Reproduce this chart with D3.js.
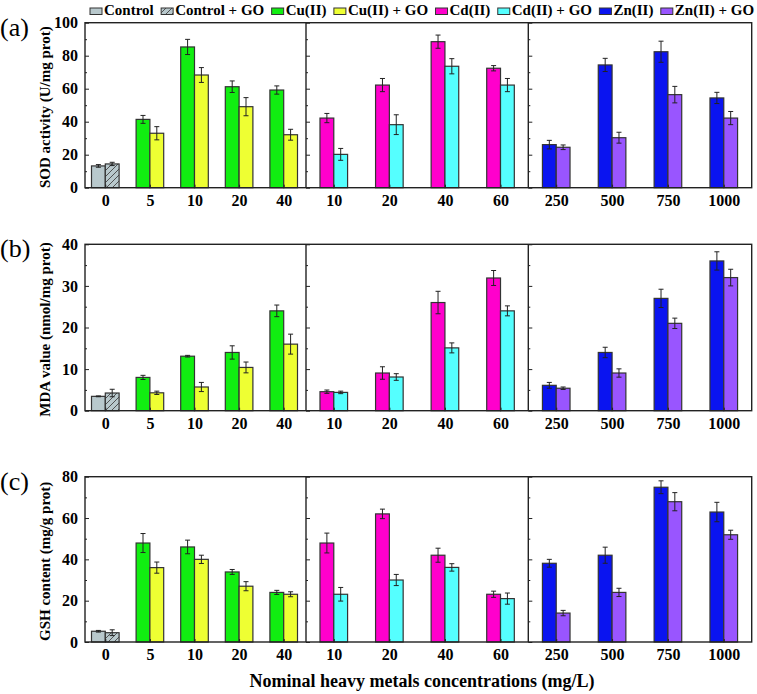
<!DOCTYPE html>
<html><head><meta charset="utf-8">
<script src="https://cdn.jsdelivr.net/npm/d3@7"></script>
<style>body{margin:0;background:#fff}svg{display:block}</style>
</head><body><svg id="chart" width="757" height="694"></svg>
<script>
// ---------- DATA ----------
const controlConc = ["0"];
const cuConc = ["5", "10", "20", "40"];
const cdConc = ["10", "20", "40", "60"];
const znConc = ["250", "500", "750", "1000"];
const legendLabels = ["Control", "Control + GO", "Cu(II)", "Cu(II) + GO", "Cd(II)", "Cd(II) + GO", "Zn(II)", "Zn(II) + GO"];
const panelLabels = ["(a)", "(b)", "(c)"];
const yTitles = ["SOD activity (U/mg prot)", "MDA value (nmol/mg prot)", "GSH content (mg/g prot)"];
const xTitle = "Nominal heavy metals concentrations (mg/L)";

// SOD
const sodControl = [13.2, 14.4], sodControlErr = [0.8, 1.0];
const sodCu = [41.4, 85.3, 61.2, 59.2], sodCuErr = [2.4, 4.6, 3.5, 2.5];
const sodCuGO = [33.0, 68.3, 49.1, 32.1], sodCuGOErr = [4.0, 4.5, 5.5, 3.3];
const sodCd = [42.2, 62.2, 88.5, 72.4], sodCdErr = [2.8, 4.0, 4.0, 1.6];
const sodCdGO = [20.2, 38.2, 73.6, 62.2], sodCdGOErr = [3.6, 6.0, 4.6, 4.0];
const sodZn = [26.1, 74.4, 82.4, 54.4], sodZnErr = [2.6, 4.0, 6.4, 3.4];
const sodZnGO = [24.5, 30.3, 56.4, 42.2], sodZnGOErr = [1.4, 3.3, 5.0, 4.0];
// MDA
const mdaControl = [3.45, 4.25], mdaControlErr = [0.1, 0.9];
const mdaCu = [8.0, 13.1, 14.0, 24.0], mdaCuErr = [0.5, 0.2, 1.6, 1.4];
const mdaCuGO = [4.3, 5.7, 10.4, 16.0], mdaCuGOErr = [0.4, 1.1, 1.3, 2.4];
const mdaCd = [4.57, 9.06, 26.0, 31.9], mdaCdErr = [0.4, 1.5, 2.7, 1.8];
const mdaCdGO = [4.4, 8.1, 15.1, 24.0], mdaCdGOErr = [0.3, 0.8, 1.2, 1.2];
const mdaZn = [6.1, 14.0, 27.0, 36.0], mdaZnErr = [0.7, 1.25, 2.2, 2.2];
const mdaZnGO = [5.4, 9.06, 21.0, 32.0], mdaZnGOErr = [0.3, 1.0, 1.25, 2.0];
// GSH
const gshControl = [5.2, 4.5], gshControlErr = [0.4, 1.4];
const gshCu = [47.9, 46.0, 33.9, 24.0], gshCuErr = [4.6, 3.3, 1.2, 1.0];
const gshCuGO = [36.0, 40.0, 27.0, 23.1], gshCuGOErr = [2.7, 2.0, 2.2, 1.2];
const gshCd = [47.9, 62.0, 42.0, 23.1], gshCdErr = [4.8, 2.3, 3.4, 1.5];
const gshCdGO = [23.1, 30.0, 36.1, 21.0], gshCdGOErr = [3.3, 2.7, 1.8, 2.7];
const gshZn = [38.1, 42.0, 74.9, 62.9], gshZnErr = [1.9, 3.9, 3.1, 4.7];
const gshZnGO = [14.0, 24.0, 67.9, 51.9], gshZnGOErr = [1.3, 2.0, 4.4, 2.2];

const yMax = [100, 40, 80];
const yMajor = [20, 10, 20];
const yMinor = [10, 5, 10];

// ---------- STYLE / LAYOUT ----------
const colors = ["#b8c8cc", "url(#hatch)", "#11ee11", "#eeff33", "#ff00cc", "#55ffff", "#0a14f0", "#9955ff"];
const serif = "'Liberation Serif','Times New Roman',serif";
const edges = [85, 306, 528.3, 751.7];
const panelTB = [[22.7, 187.7], [244.3, 410.7], [476.7, 642]];
const bw = 13.8;

const svg = d3.select("#chart");
const defs = svg.append("defs");
const pat = defs.append("pattern").attr("id", "hatch").attr("patternUnits", "userSpaceOnUse")
  .attr("width", 6).attr("height", 6);
pat.append("rect").attr("width", 6).attr("height", 6).attr("fill", "#b8c8cc");
pat.append("path").attr("d", "M-1,1 l2,-2 M0,6 l6,-6 M5,7 l2,-2").attr("stroke", "#444").attr("stroke-width", 0.9);

// x scales
const x0 = d3.scalePoint().domain(controlConc.concat(cuConc)).range([83, edges[1]]).padding(0.5);
const x1 = d3.scalePoint().domain(cdConc).range([edges[1], edges[2]]).padding(0.5);
const x2 = d3.scalePoint().domain(znConc).range([edges[2], edges[3]]).padding(0.5);

const datasets = [
  {ctrl: [sodControl, sodControlErr], cu: [sodCu, sodCuErr, sodCuGO, sodCuGOErr], cd: [sodCd, sodCdErr, sodCdGO, sodCdGOErr], zn: [sodZn, sodZnErr, sodZnGO, sodZnGOErr]},
  {ctrl: [mdaControl, mdaControlErr], cu: [mdaCu, mdaCuErr, mdaCuGO, mdaCuGOErr], cd: [mdaCd, mdaCdErr, mdaCdGO, mdaCdGOErr], zn: [mdaZn, mdaZnErr, mdaZnGO, mdaZnGOErr]},
  {ctrl: [gshControl, gshControlErr], cu: [gshCu, gshCuErr, gshCuGO, gshCuGOErr], cd: [gshCd, gshCdErr, gshCdGO, gshCdGOErr], zn: [gshZn, gshZnErr, gshZnGO, gshZnGOErr]}
];

datasets.forEach((ds, pi) => {
  const [top, bot] = panelTB[pi];
  const y = d3.scaleLinear().domain([0, yMax[pi]]).range([bot, top]);
  const g = svg.append("g");

  // build bars
  const bars = [];
  ds.ctrl[0].forEach((v, k) => bars.push({cx: x0("0"), side: k, v, e: ds.ctrl[1][k], fill: colors[k]}));
  const addPair = (scale, cats, arr, ci) => cats.forEach((c, i) => {
    bars.push({cx: scale(c), side: 0, v: arr[0][i], e: arr[1][i], fill: colors[ci]});
    bars.push({cx: scale(c), side: 1, v: arr[2][i], e: arr[3][i], fill: colors[ci + 1]});
  });
  addPair(x0, cuConc, ds.cu, 2);
  addPair(x1, cdConc, ds.cd, 4);
  addPair(x2, znConc, ds.zn, 6);

  g.selectAll("rect.bar").data(bars).join("rect").attr("class", "bar")
    .attr("x", d => d.cx - bw + d.side * bw).attr("width", bw)
    .attr("y", d => y(d.v)).attr("height", d => y(0) - y(d.v))
    .attr("fill", d => d.fill).attr("stroke", "#333").attr("stroke-width", 1.2);

  const eb = g.selectAll("g.err").data(bars).join("g").attr("class", "err")
    .attr("stroke", "#222").attr("stroke-width", 1);
  eb.append("line").attr("x1", d => d.cx - bw / 2 + d.side * bw).attr("x2", d => d.cx - bw / 2 + d.side * bw)
    .attr("y1", d => y(d.v + d.e)).attr("y2", d => y(d.v - d.e));
  eb.append("line").attr("x1", d => d.cx - bw / 2 + d.side * bw - 2.5).attr("x2", d => d.cx - bw / 2 + d.side * bw + 2.5)
    .attr("y1", d => y(d.v + d.e)).attr("y2", d => y(d.v + d.e));
  eb.append("line").attr("x1", d => d.cx - bw / 2 + d.side * bw - 2.5).attr("x2", d => d.cx - bw / 2 + d.side * bw + 2.5)
    .attr("y1", d => y(d.v - d.e)).attr("y2", d => y(d.v - d.e));

  // y axes (inward ticks) at each sub-panel edge
  const majors = d3.range(0, yMax[pi] + 0.001, yMajor[pi]);
  const minors = d3.range(0, yMax[pi] + 0.001, yMinor[pi]).filter(v => !majors.includes(v));
  [edges[0], edges[1], edges[2]].forEach((ex, k) => {
    const ax = g.append("g").attr("transform", `translate(${ex},0)`)
      .call(d3.axisLeft(y).tickValues(majors).tickSizeInner(-4).tickSizeOuter(0).tickPadding(7)
        .tickFormat(k === 0 ? d3.format("d") : () => ""));
    ax.select(".domain").remove();
    ax.selectAll("text").attr("font-family", serif).attr("font-weight", "bold").attr("font-size", 16).attr("fill", "#000");
    ax.selectAll("line").attr("stroke", "#222");
    const mx = g.append("g").attr("transform", `translate(${ex},0)`)
      .call(d3.axisLeft(y).tickValues(minors).tickSizeInner(-2).tickSizeOuter(0).tickFormat(() => ""));
    mx.select(".domain").remove();
    mx.selectAll("line").attr("stroke", "#222");
  });

  // x axes
  [x0, x1, x2].forEach(sc => {
    const ax = g.append("g").attr("transform", `translate(0,${bot})`)
      .call(d3.axisBottom(sc).tickSizeInner(-3).tickSizeOuter(0).tickPadding(7));
    ax.select(".domain").remove();
    ax.selectAll("line").attr("stroke", "#222");
    ax.selectAll("text").attr("font-family", serif).attr("font-weight", "bold").attr("font-size", 16).attr("fill", "#000");
  });

  // frame and dividers
  g.append("rect").attr("x", edges[0]).attr("y", top).attr("width", edges[3] - edges[0]).attr("height", bot - top)
    .attr("fill", "none").attr("stroke", "#222").attr("stroke-width", 1.4);
  [edges[1], edges[2]].forEach(ex => g.append("line").attr("x1", ex).attr("x2", ex).attr("y1", top).attr("y2", bot)
    .attr("stroke", "#222").attr("stroke-width", 1.4));

  // y title
  svg.append("text").attr("transform", `translate(50,${(top + bot) / 2 + 2}) rotate(-90)`)
    .attr("text-anchor", "middle").attr("font-family", serif).attr("font-weight", "bold").attr("font-size", 15)
    .text(yTitles[pi]);
  // panel label
  svg.append("text").attr("x", 0).attr("y", top + 13).attr("font-family", serif).attr("font-size", 26)
    .text(panelLabels[pi]);
});

// x title
svg.append("text").attr("x", 422).attr("y", 687).attr("text-anchor", "middle")
  .attr("font-family", serif).attr("font-weight", "bold").attr("font-size", 18).text(xTitle);

// legend
const lg = svg.append("g");
let lx = 90;
const boxW = 12, boxH = 6.5, boxGap = 2, itemGap = 7.4;
legendLabels.forEach((lab, i) => {
  lg.append("rect").attr("x", lx).attr("y", 8).attr("width", boxW).attr("height", boxH)
    .attr("fill", colors[i]).attr("stroke", "#333").attr("stroke-width", 1);
  const t = lg.append("text").attr("x", lx + boxW + boxGap).attr("y", 14.5)
    .attr("font-family", serif).attr("font-weight", "bold").attr("font-size", 15).text(lab);
  lx += boxW + boxGap + t.node().getComputedTextLength() + itemGap;
});
</script></body></html>
